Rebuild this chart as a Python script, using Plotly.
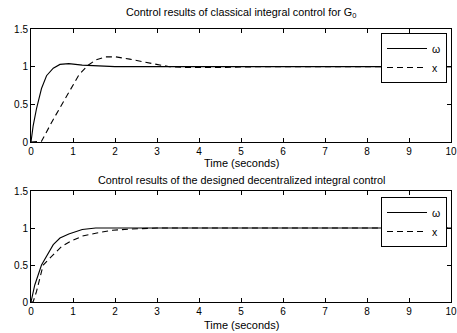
import plotly.graph_objects as go

# ---- data ----
t_w1 = [0, 0.05, 0.13, 0.25, 0.37, 0.53, 0.69, 0.9, 1.22, 1.54, 2.0, 3.0, 10.0]
w1 = [0, 0.21, 0.44, 0.71, 0.88, 0.98, 1.03, 1.04, 1.02, 1.01, 1.0, 1.0, 1.0]

t_x1 = [0, 0.2, 0.25, 0.53, 0.73, 0.94, 1.14, 1.34, 1.54, 1.78, 2.02, 2.35, 2.67, 2.99,
        3.3, 3.8, 4.3, 4.8, 5.5, 10.0]
x1 = [0, 0, 0.01, 0.30, 0.50, 0.71, 0.89, 1.01, 1.09, 1.13, 1.13, 1.10, 1.06, 1.03,
      1.0, 0.988, 0.988, 0.995, 1.0, 1.0]

t_w2 = [0, 0.09, 0.25, 0.53, 0.69, 0.9, 1.22, 1.54, 2.0, 10.0]
w2 = [0, 0.23, 0.50, 0.775, 0.865, 0.92, 0.98, 1.0, 1.0, 1.0]

t_x2 = [0, 0.05, 0.13, 0.17, 0.29, 0.41, 0.57, 0.73, 0.94, 1.22, 1.54, 1.94, 2.35, 3.0, 10.0]
x2 = [0, 0.0, 0.14, 0.23, 0.50, 0.57, 0.66, 0.75, 0.82, 0.89, 0.93, 0.97, 0.985, 1.0, 1.0]

x_ticks = [0, 1, 2, 3, 4, 5, 6, 7, 8, 9, 10]
y_ticks = [0, 0.5, 1, 1.5]
title_top = "Control results of classical integral control for G<sub>0</sub>"
title_bot = "Control results of the designed decentralized integral control"
x_label = "Time (seconds)"
names = ["ω", "x"]

W, H = 457, 333
FONT = "Liberation Sans, Arial, sans-serif"

def px_x(p):
    return p / W

def px_y(p):
    return (H - p) / H

fig = go.Figure()
line_solid = dict(color="black", width=1.1)
line_dash = dict(color="black", width=1.1, dash="6px,4px")

fig.add_trace(go.Scatter(x=t_w1, y=w1, mode="lines", line=line_solid, name=names[0],
                         xaxis="x", yaxis="y", legend="legend"))
fig.add_trace(go.Scatter(x=t_x1, y=x1, mode="lines", line=line_dash, name=names[1],
                         xaxis="x", yaxis="y", legend="legend"))
fig.add_trace(go.Scatter(x=t_w2, y=w2, mode="lines", line=line_solid, name=names[0],
                         xaxis="x2", yaxis="y2", legend="legend2"))
fig.add_trace(go.Scatter(x=t_x2, y=x2, mode="lines", line=line_dash, name=names[1],
                         xaxis="x2", yaxis="y2", legend="legend2"))

xdom = [px_x(31), px_x(451)]
ax_common = dict(showline=True, linecolor="black", linewidth=1, mirror="ticks",
                 ticks="inside", ticklen=4, tickcolor="black", showgrid=False,
                 zeroline=False, automargin=False,
                 tickfont=dict(family=FONT, size=10, color="black"))

leg_common = dict(xanchor="right", yanchor="top", bgcolor="white", bordercolor="black",
                  borderwidth=1, font=dict(family=FONT, size=10.5), tracegroupgap=0,
                  itemwidth=40)

fig.update_layout(
    template="none",
    width=W, height=H,
    margin=dict(l=0, r=0, t=0, b=0, autoexpand=False),
    paper_bgcolor="white", plot_bgcolor="white",
    font=dict(family=FONT, size=10, color="black"),
    xaxis=dict(domain=xdom, range=[0, 10], tickvals=x_ticks, anchor="y", **ax_common),
    yaxis=dict(domain=[px_y(142), px_y(29)], range=[0, 1.5], tickvals=y_ticks,
               ticktext=["0", "0.5", "1", "1.5"], anchor="x", **ax_common),
    xaxis2=dict(domain=xdom, range=[0, 10], tickvals=x_ticks, anchor="y2", **ax_common),
    yaxis2=dict(domain=[px_y(302), px_y(191)], range=[0, 1.5], tickvals=y_ticks,
                ticktext=["0", "0.5", "1", "1.5"], anchor="x2", **ax_common),
    legend=dict(x=px_x(447), y=px_y(33), **leg_common),
    legend2=dict(x=px_x(447), y=px_y(197), **leg_common),
    showlegend=True,
)

ann = [
    (title_top, 13, 10.8), (title_bot, 180, 10.8), (x_label, 163, 11), (x_label, 325, 11),
]
for text, ypix, fs in ann:
    fig.add_annotation(text=text, x=px_x(241), y=px_y(ypix), xref="paper", yref="paper",
                       xanchor="center", yanchor="middle", showarrow=False,
                       font=dict(family=FONT, size=fs, color="black"))

fig.write_html("out.html", config={"displayModeBar": False},
               post_script="document.body.style.margin='0';")
